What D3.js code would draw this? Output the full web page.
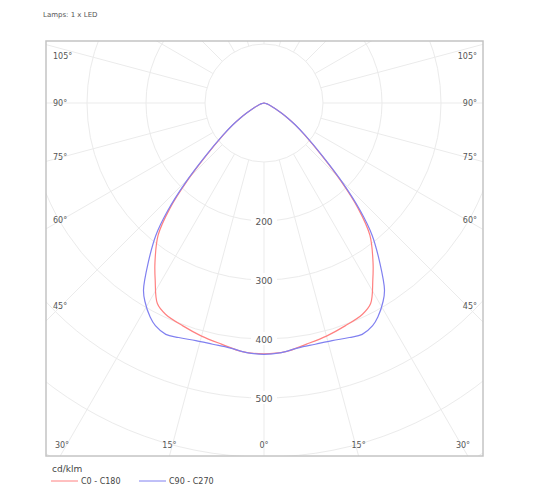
<!DOCTYPE html>
<html><head><meta charset="utf-8">
<script src="https://cdn.jsdelivr.net/npm/d3@7"></script>
<style>body{margin:0;background:#fff;font-family:"DejaVu Sans",sans-serif}</style>
</head><body><svg id="c" width="543" height="500"></svg>
<script>
const gammaC0 = [0,5,10,15,20,25,28,31.6,34.3,38.7,41.8,44.5,47.8,51.8,55,57.5,60,64,68,72,76,80,85,90];
const valC0   = [425,423,415,409,402,395,385,352,328,287,239,187,131,88,64,48,34,20,12,7,4,2,0.7,0];
const gammaC90 = [0,4,8,12,16,20,23,26,28,31,32.8,35.9,39.3,41.8,44.5,47.8,51.8,55,57.5,60,64,68,72,76,80,85,90];
const valC90   = [426,424,419,418,419,423,426,420,411,392,377,335,289,245,192,134,89,65,48,34,20,12,7,4,2,0.7,0];
const ringValues = [100,200,300,400,500,600,700,800];
const ringLabels = [200,300,400,500];
const spokeAngles = d3.range(0,181,15);
const sideLabels = [45,60,75,90,105];
const bottomLabels = [30,15,0,15,30];
const bottomSigned = [-30,-15,0,15,30];

const svg = d3.select("#c");
const cx=264, cy=103, fx0=46, fx1=483, fy0=41, fy1=456;
const r = d3.scaleLinear().domain([0,100]).range([0,59]);

svg.append("text").attr("x",43).attr("y",17).attr("font-size",7).attr("fill","#555").text("Lamps: 1 x LED");

svg.append("clipPath").attr("id","fr").append("rect").attr("x",fx0).attr("y",fy0).attr("width",fx1-fx0).attr("height",fy1-fy0);
const g = svg.append("g").attr("clip-path","url(#fr)");
g.selectAll("circle.ring").data(ringValues).enter().append("circle")
 .attr("cx",cx).attr("cy",cy).attr("r",d=>r(d)).attr("fill","none").attr("stroke","#ebebeb").attr("stroke-width",1);
const spokes=[];
spokeAngles.forEach(a=>{spokes.push(a); if(a>0&&a<180) spokes.push(-a);});
g.selectAll("line.sp").data(spokes).enter().append("line")
 .attr("x1",d=>cx+r(100)*Math.sin(d*Math.PI/180)).attr("y1",d=>cy+r(100)*Math.cos(d*Math.PI/180))
 .attr("x2",d=>cx+r(1000)*Math.sin(d*Math.PI/180)).attr("y2",d=>cy+r(1000)*Math.cos(d*Math.PI/180))
 .attr("stroke","#ebebeb").attr("stroke-width",1);

ringLabels.forEach(v=>{
  g.append("rect").attr("x",cx-13).attr("y",cy+r(v)-7).attr("width",26).attr("height",13).attr("fill","#fff");
  g.append("text").attr("x",cx).attr("y",cy+r(v)+3.5).attr("text-anchor","middle").attr("font-size",9).attr("fill","#555").text(v);
});

function curve(gs,vs){
  const pts=[];
  for(let i=gs.length-1;i>=0;i--) pts.push([-gs[i],vs[i]]);
  for(let i=1;i<gs.length;i++) pts.push([gs[i],vs[i]]);
  return d3.lineRadial().angle(d=>Math.PI-d[0]*Math.PI/180).radius(d=>r(d[1])).curve(d3.curveCatmullRom)(pts);
}
g.append("path").attr("transform",`translate(${cx},${cy})`).attr("d",curve(gammaC0,valC0)).attr("fill","none").attr("stroke","#ff8080").attr("stroke-width",1.2);
g.append("path").attr("transform",`translate(${cx},${cy})`).attr("d",curve(gammaC90,valC90)).attr("fill","none").attr("stroke","#8080f0").attr("stroke-width",1.2);

sideLabels.forEach(a=>{
  const t=Math.tan((90-a)*Math.PI/180);
  let y=cy+(cx-fx0)*t; y=y-(y-cy)*0.07; y=Math.max(y,56);
  svg.append("text").attr("x",fx0+7).attr("y",y+3).attr("font-size",8).attr("fill","#555").text(a+"°");
  svg.append("text").attr("x",fx1-6).attr("y",y+3).attr("text-anchor","end").attr("font-size",8).attr("fill","#555").text(a+"°");
});
bottomSigned.forEach((a,i)=>{
  let x=cx+(fy1-cy)*Math.tan(a*Math.PI/180);
  x=Math.max(Math.min(x,fx1-20),fx0+16);
  svg.append("text").attr("x",x).attr("y",fy1-8).attr("text-anchor","middle").attr("font-size",8).attr("fill","#555").text(bottomLabels[i]+"°");
});

svg.append("rect").attr("x",fx0).attr("y",fy0).attr("width",fx1-fx0).attr("height",fy1-fy0).attr("fill","none").attr("stroke","#c4c4c4").attr("stroke-width",1.5);

svg.append("text").attr("x",52).attr("y",472).attr("font-size",9).attr("fill","#444").text("cd/klm");
const leg=[["C0 - C180","#ff8080",51],["C90 - C270","#8080f0",139]];
leg.forEach(l=>{
  svg.append("line").attr("x1",l[2]).attr("x2",l[2]+27).attr("y1",481).attr("y2",481).attr("stroke",l[1]).attr("stroke-width",1);
  svg.append("text").attr("x",l[2]+30).attr("y",484).attr("font-size",8).attr("fill","#444").text(l[0]);
});
</script></body></html>
